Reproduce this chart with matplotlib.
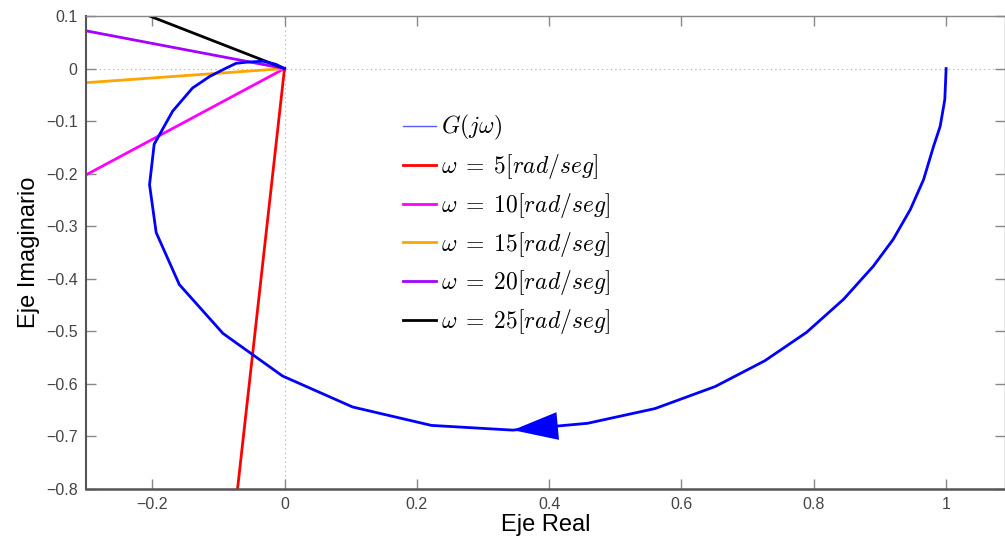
import numpy as np
import matplotlib.pyplot as plt

plt.rcParams['mathtext.fontset'] = 'cm'
plt.rcParams['axes.unicode_minus'] = True

# curva de Nyquist G(jw)
re_G = [1.0, 0.999, 0.998, 0.991, 0.981, 0.966, 0.946, 0.920, 0.890, 0.845, 0.789,
        0.726, 0.651, 0.560, 0.458, 0.345, 0.222, 0.103, -0.003, -0.093,
        -0.159, -0.194, -0.204, -0.197, -0.169, -0.139, -0.113, -0.088,
        -0.073, -0.058, -0.033, -0.013, 0.0]
im_G = [0.0, -0.03, -0.059, -0.110, -0.148, -0.211, -0.268, -0.325, -0.376, -0.439,
        -0.502, -0.556, -0.605, -0.647, -0.675, -0.688, -0.679, -0.644,
        -0.585, -0.504, -0.411, -0.312, -0.221, -0.144, -0.081, -0.037,
        -0.015, 0.001, 0.010, 0.012, 0.014, 0.008, 0.0]

# rectas desde el origen para cada frecuencia (punto final)
omegas = [5, 10, 15, 20, 25]
x_end = [-0.071, -0.301, -0.301, -0.301, -0.204]
y_end = [-0.80, -0.203, -0.027, 0.072, 0.10]
colores = ['#ff0000', '#ff00ff', '#ffa500', '#a600ff', '#000000']

fig = plt.figure(figsize=(10.05, 5.42), dpi=100)
ax = fig.add_axes([0.0856, 0.0978, 0.9144, 0.8727])

ax.axhline(0, color='#aaaaaa', linestyle=(0, (1, 3)), linewidth=0.8, zorder=0)
ax.axvline(0, color='#aaaaaa', linestyle=(0, (1, 3)), linewidth=0.8, zorder=0)

ax.plot(re_G, im_G, color='#0000ff', linewidth=2, zorder=3)
# linea delgada solo para la leyenda
ax.plot([], [], color='#5a5aff', linewidth=1, label=r'$G(j\omega)$')

for w, xe, ye, c in zip(omegas, x_end, y_end, colores):
    ax.plot([0, xe], [0, ye], color=c, linewidth=2, zorder=2,
            label=r'$\omega\;=\;%d[rad/seg]$' % w)

# flecha de direccion sobre la curva
i = 15
ax.annotate('', xy=(re_G[i], im_G[i]), xytext=(re_G[i - 1], im_G[i - 1]),
            arrowprops=dict(arrowstyle='-|>,head_length=1.3,head_width=0.4',
                            color='#0000ff', lw=0, mutation_scale=25,
                            shrinkA=0, shrinkB=0), zorder=4)

ax.set_xlim(-0.3, 1.089)
ax.set_ylim(-0.8, 0.1)
ax.set_xticks([-0.2, 0, 0.2, 0.4, 0.6, 0.8, 1])
ax.set_xticklabels(['\u22120.2', '0', '0.2', '0.4', '0.6', '0.8', '1'])
yt = [-0.8, -0.7, -0.6, -0.5, -0.4, -0.3, -0.2, -0.1, 0, 0.1]
ax.set_yticks(yt)
ax.set_yticklabels([('\u2212%g' % -v) if v < 0 else '%g' % v for v in yt])

ax.tick_params(direction='in', length=7, width=1, color='#888888',
               labelcolor='#444444', labelsize=11.5, top=True, right=True, pad=6)
for lab in ax.get_xticklabels() + ax.get_yticklabels():
    lab.set_family('Liberation Sans')
for s in ax.spines.values():
    s.set_color('#888888')
    s.set_linewidth(1)
ax.spines['bottom'].set_color('#555555')
ax.spines['bottom'].set_linewidth(1.8)
ax.spines['left'].set_color('#555555')
ax.spines['left'].set_linewidth(1.5)

ax.set_xlabel('Eje Real', fontsize=17, family='Liberation Sans', labelpad=1)
ax.set_ylabel('Eje Imaginario', fontsize=17, family='Liberation Sans', labelpad=4)

ax.legend(loc='upper left', bbox_to_anchor=(0.322, 0.839), frameon=False,
          fontsize=17, handlelength=1.4, handletextpad=0.2, labelspacing=0.41)

fig.savefig('out.png', dpi=100)
